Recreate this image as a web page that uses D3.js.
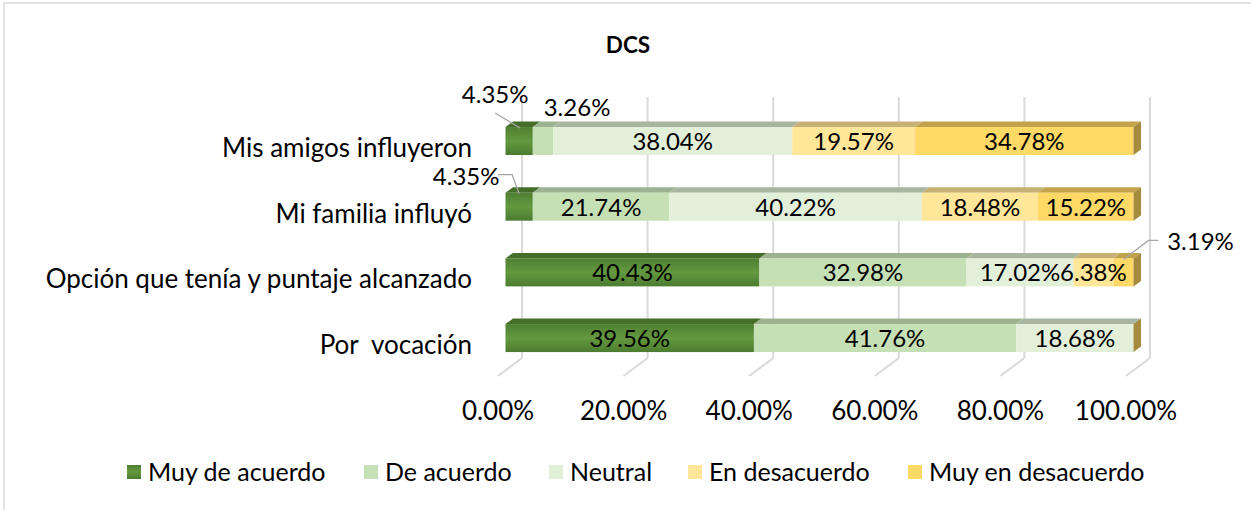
<!DOCTYPE html>
<html>
<head>
<meta charset="utf-8">
<script src="https://cdn.jsdelivr.net/npm/d3@7"></script>
<style>
  body { margin: 0; background: #fff; }
  svg { font-family: Lato, "Open Sans", sans-serif; }
  text { white-space: pre; }
</style>
</head>
<body>
<div id="chart"></div>
<script>
// datos
const categories = ["Mis amigos influyeron", "Mi familia influyó", "Opción que tenía y puntaje alcanzado", "Por  vocación"];
const seriesNames = ["Muy de acuerdo", "De acuerdo", "Neutral", "En desacuerdo", "Muy en desacuerdo"];
const muyDeAcuerdo = [4.35, 4.35, 40.43, 39.56];
const deAcuerdo = [3.26, 21.74, 32.98, 41.76];
const neutral = [38.04, 40.22, 17.02, 18.68];
const enDesacuerdo = [19.57, 18.48, 6.38, 0];
const muyEnDesacuerdo = [34.78, 15.22, 3.19, 0];
const tickValues = [0, 20, 40, 60, 80, 100];

const values = [muyDeAcuerdo, deAcuerdo, neutral, enDesacuerdo, muyEnDesacuerdo];
const frontColors = ["url(#gGreen)", "#c5e0b4", "#e2efd9", "#ffe699", "#ffd966"];
const topColors = ["#456e2b", "#9db38f", "#a8b5a0", "#c6b073", "#c2a24a"];
const legendColors = ["url(#gGreen)", "#c5e0b4", "#e2efd9", "#ffe699", "#ffd966"];
const sideColor = "#a68a3d";

// callouts for small segments (row-serie: label offset, leader points relative to segment centre/top)
const callouts = {
  "0-0": { lx: -24, ly: -33, leader: [[-24, -14], [1, 1]] },
  "0-1": { lx: 34, ly: -20, leader: null },
  "1-0": { lx: -53, ly: -17, leader: [[-21, -18], [-7, -18], [0, 1]] },
  "2-4": { lx: 77, ly: -17, leader: [[35, -18], [25, -18], [0, 1]] }
};

const W = 1251, H = 510;
const svg = d3.select("#chart").append("svg").attr("width", W).attr("height", H);

const defs = svg.append("defs");
const grad = defs.append("linearGradient").attr("id", "gGreen").attr("x1", 0).attr("y1", 0).attr("x2", 0).attr("y2", 1);
grad.append("stop").attr("offset", "0%").attr("stop-color", "#4f7f32");
grad.append("stop").attr("offset", "50%").attr("stop-color", "#63993f");
grad.append("stop").attr("offset", "100%").attr("stop-color", "#4c7c30");

// marco
svg.append("rect").attr("x", 4).attr("y", 3).attr("width", W + 10).attr("height", H + 10)
  .attr("fill", "none").attr("stroke", "#d9d9d9").attr("stroke-width", 1.5);

// title
svg.append("text").attr("x", 628).attr("y", 53).attr("text-anchor", "middle")
  .attr("font-size", 22.5).attr("font-weight", "bold").text("DCS");

const x0 = 505.5;
const x = d3.scaleLinear().domain([0, 100]).range([0, 628]);
const y = d3.scaleBand().domain(categories).range([108.2, 370.9]).paddingInner(0.574).paddingOuter(0.287);

const bdx = 7.5, bdy = -5.5;       // bar depth
const fdx = 24, fdy = -18;         // floor depth
const floorFrontX = x0 - 7.5, floorFrontY = 376;
const fs = 26, fsLegend = 25, fsLabel = 24;

// gridlines: back wall + floor
const grid = svg.append("g");
tickValues.forEach(t => {
  const bx = floorFrontX + x(t) + fdx, by = floorFrontY + fdy;
  grid.append("line").attr("x1", bx).attr("x2", bx).attr("y1", 97).attr("y2", by)
    .attr("stroke", "#d9d9d9").attr("stroke-width", 2);
  grid.append("line").attr("x1", bx).attr("y1", by).attr("x2", floorFrontX + x(t)).attr("y2", floorFrontY)
    .attr("stroke", "#d9d9d9").attr("stroke-width", 2);
});

// axis labels
svg.append("g").selectAll("text").data(tickValues).join("text")
  .attr("x", d => floorFrontX + x(d)).attr("y", 420).attr("text-anchor", "middle")
  .attr("font-size", fs).attr("fill", "#000").text(d => d.toFixed(2) + "%");

// category labels
svg.append("g").selectAll("text").data(categories).join("text")
  .attr("x", 472).attr("y", d => y(d) + y.bandwidth() / 2 + 16).attr("text-anchor", "end")
  .attr("font-size", fs).attr("fill", "#000").text(d => d);

// bars
const bars = svg.append("g");
const labels = svg.append("g");
categories.forEach((cat, i) => {
  const top = y(cat), h = y.bandwidth();
  let cum = 0;
  values.forEach((arr, s) => {
    const v = arr[i];
    const xa = x0 + x(cum), xb = x0 + x(cum + v);
    if (v > 0) {
      bars.append("path")
        .attr("d", `M${xa},${top}L${xa + bdx},${top + bdy}L${xb + bdx},${top + bdy}L${xb},${top}Z`)
        .attr("fill", topColors[s]);
      bars.append("rect").attr("x", xa).attr("y", top).attr("width", xb - xa).attr("height", h)
        .attr("fill", frontColors[s]);
      const c = callouts[i + "-" + s];
      const cx = (xa + xb) / 2, cy = top + h / 2;
      if (c) {
        if (c.leader) {
          labels.append("polyline")
            .attr("points", c.leader.map(p => [cx + p[0], top + p[1]].join(",")).join(" "))
            .attr("fill", "none").attr("stroke", "#a6a6a6").attr("stroke-width", 1.3);
        }
        labels.append("text").attr("x", cx + c.lx).attr("y", top + c.ly + 9)
          .attr("text-anchor", "middle").attr("font-size", fsLabel).text(v.toFixed(2) + "%");
      } else {
        labels.append("text").attr("x", cx).attr("y", cy + 9)
          .attr("text-anchor", "middle").attr("font-size", fsLabel).text(v.toFixed(2) + "%");
      }
    }
    cum += v;
  });
  const xe = x0 + x(cum);
  bars.append("path")
    .attr("d", `M${xe},${top}L${xe + bdx},${top + bdy}L${xe + bdx},${top + h + bdy}L${xe},${top + h}Z`)
    .attr("fill", sideColor);
});

// legend
const legendX = [127, 364, 549, 688, 908];
const legend = svg.append("g");
seriesNames.forEach((name, s) => {
  legend.append("rect").attr("x", legendX[s]).attr("y", 465).attr("width", 14).attr("height", 14)
    .attr("fill", legendColors[s]);
  legend.append("text").attr("x", legendX[s] + 21).attr("y", 481).attr("font-size", fsLegend).text(name);
});
</script>
</body>
</html>
